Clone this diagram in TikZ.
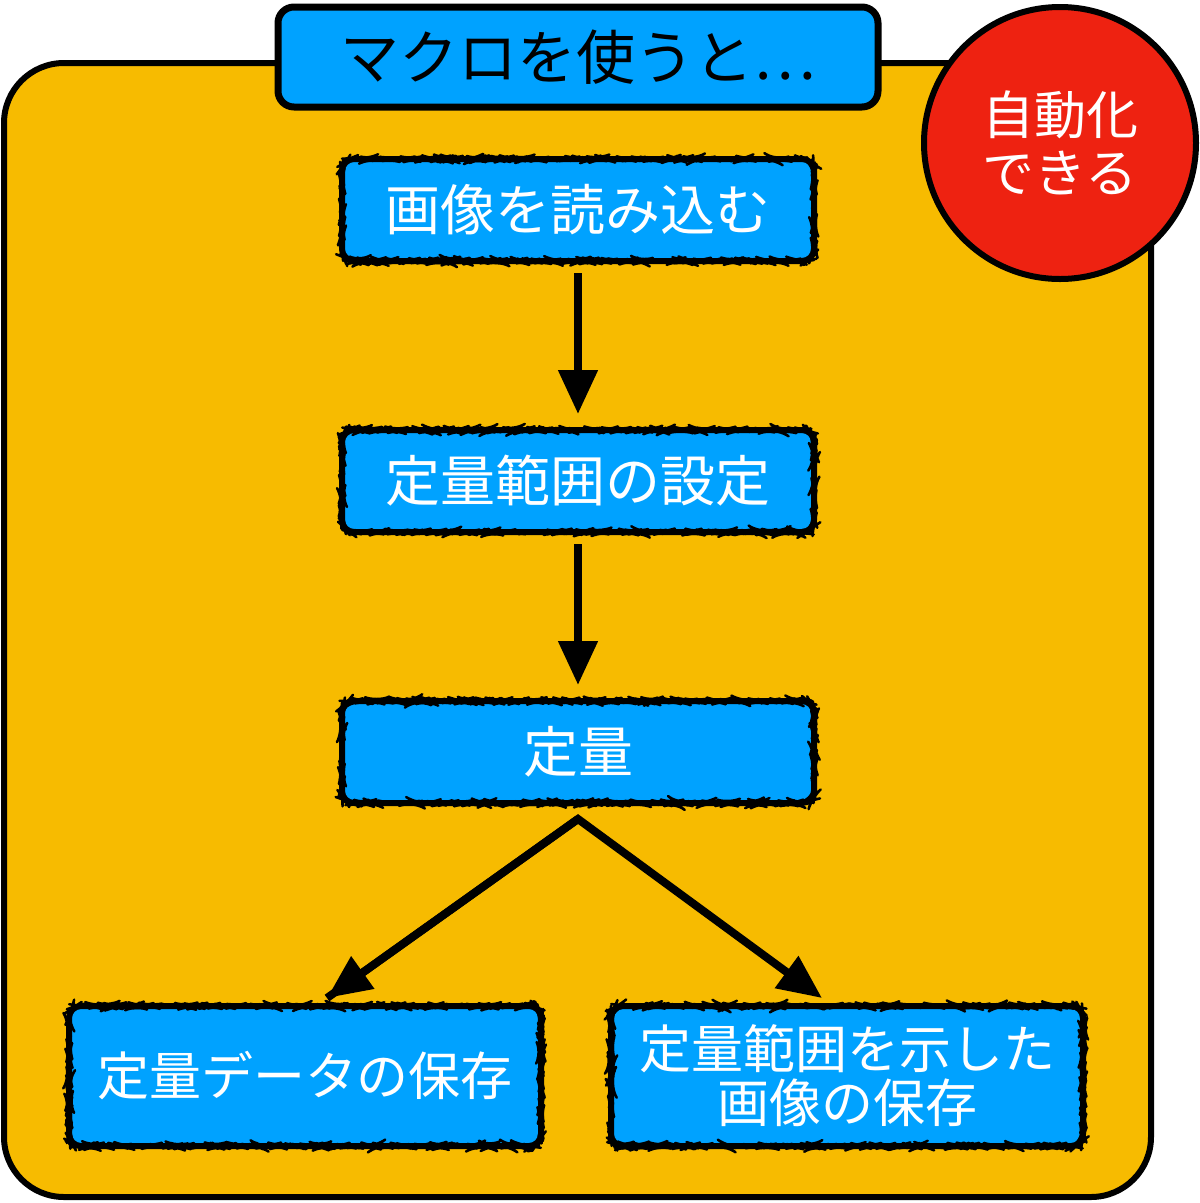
\documentclass[tikz,border=0pt]{standalone}
\usepackage{fontspec}
\newfontfamily\jp{Noto Sans CJK JP}
\usetikzlibrary{arrows.meta,decorations.pathmorphing}
\definecolor{bgyellow}{HTML}{F7BB00}
\definecolor{boxblue}{HTML}{00A2FF}
\definecolor{badgered}{HTML}{EE2211}
\tikzset{
  stepbox/.style={fill=boxblue, draw=black, line width=6pt, rounded corners=12pt,
    minimum width=472pt, minimum height=102pt, text=white, align=center,
    font=\jp\fontsize{55}{58}\selectfont, inner sep=0pt,
    postaction={draw=black, line width=2.5pt, line join=round, line cap=round, decorate,
      decoration={random steps, segment length=3pt, amplitude=0.8pt}}},
  arr/.style={line width=8pt, -{Triangle[length=44pt,width=38pt]}},
}
\begin{document}
\begin{tikzpicture}[x=1pt,y=-1pt]
\useasboundingbox (0,0) rectangle (1200,1203);
% main panel
\draw[line width=6pt, fill=bgyellow, rounded corners=60pt] (4,63) rectangle (1151,1197);
% title
\node[fill=boxblue, draw=black, line width=7pt, rounded corners=16pt,
  minimum width=600pt, minimum height=100pt, inner sep=0pt,
  font=\jp\fontsize{59}{60}\selectfont, text=black] (title) at (578,57) {マクロを使うと…};
% badge
\node[circle, fill=badgered, draw=black, line width=6pt, minimum size=272pt, inner sep=0pt,
  align=center, text=white, font=\jp\fontsize{52}{58}\selectfont] (badge) at (1060,143) {自動化\\できる};
% steps
\node[stepbox] (b1) at (578,210) {画像を読み込む};
\node[stepbox] (b2) at (578,481) {定量範囲の設定};
\node[stepbox] (b3) at (578,752) {定量};
\node[stepbox, minimum height=140pt, font=\jp\fontsize{52}{54}\selectfont] (b4) at (305,1076) {定量データの保存};
\node[stepbox, minimum height=140pt, font=\jp\fontsize{52}{54}\selectfont] (b5) at (847,1076) {定量範囲を示した\\画像の保存};
% arrows
\draw[arr, shorten <=9pt, shorten >=13pt] (b1) -- (b2);
\draw[arr, shorten <=9pt, shorten >=13pt] (b2) -- (b3);
\coordinate (apex) at ([yshift=-13pt]b3.south);
\coordinate (t4) at ([xshift=22pt,yshift=5pt]b4.north);
\coordinate (t5) at ([xshift=-25pt,yshift=5pt]b5.north);
\draw[arr, line join=miter] (t4) -- (apex) -- (t5);
\draw[arr] (apex) -- (t4);
\end{tikzpicture}
\end{document}
